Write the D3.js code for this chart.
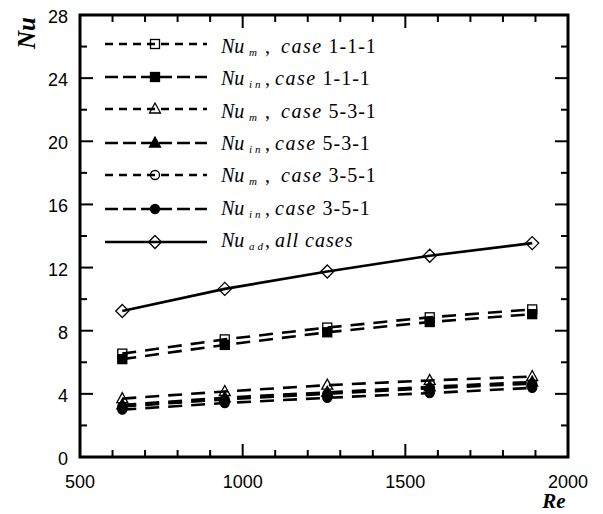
<!DOCTYPE html>
<html>
<head>
<meta charset="utf-8">
<script src="https://cdn.jsdelivr.net/npm/d3@7/dist/d3.min.js"></script>
<style>
  body { margin: 0; background: #fff; }
  svg { display: block; }
</style>
</head>
<body>
<div id="chart"></div>
<script>
// Reynolds numbers of the five runs
const re = [630, 945, 1260, 1575, 1890];

// Nusselt numbers
const nuM111  = [6.55, 7.45, 8.2, 8.85, 9.35];
const nuIn111 = [6.2, 7.1, 7.9, 8.55, 9.05];
const nuM531  = [3.7, 4.15, 4.55, 4.85, 5.1];
const nuIn531 = [3.3, 3.75, 4.1, 4.45, 4.75];
const nuM351  = [3.2, 3.65, 4.0, 4.35, 4.65];
const nuIn351 = [3.0, 3.42, 3.75, 4.05, 4.38];
const nuAd    = [9.25, 10.65, 11.75, 12.75, 13.55];

const xTicks = [500, 1000, 1500, 2000];
const yTicks = [0, 4, 8, 12, 16, 20, 24, 28];

const series = [
  { vals: nuM111,  sub: "m",  tail: "1-1-1", marker: "square",   filled: false, dash: "8,6" },
  { vals: nuIn111, sub: "in", tail: "1-1-1", marker: "square",   filled: true,  dash: "13,5" },
  { vals: nuM531,  sub: "m",  tail: "5-3-1", marker: "triangle", filled: false, dash: "8,6" },
  { vals: nuIn531, sub: "in", tail: "5-3-1", marker: "triangle", filled: true,  dash: "13,5" },
  { vals: nuM351,  sub: "m",  tail: "3-5-1", marker: "circle",   filled: false, dash: "8,6" },
  { vals: nuIn351, sub: "in", tail: "3-5-1", marker: "circle",   filled: true,  dash: "13,5" },
  { vals: nuAd,    sub: "ad", tail: null,    marker: "diamond",  filled: false, dash: null }
];

const W = 603, H = 514;
const pL = 80, pR = 568, pT = 15, pB = 457;

const svg = d3.select("#chart").append("svg").attr("width", W).attr("height", H);

const x = d3.scaleLinear().domain([500, 2000]).range([pL, pR]);
const y = d3.scaleLinear().domain([0, 28]).range([pB, pT]);

const sans = "'Liberation Sans', Arial, sans-serif";
const serif = "'Liberation Serif', 'Times New Roman', serif";

// ticks on all four sides, pointing inward
const xMinor = d3.range(500, 2001, 100);
const yMinor = d3.range(0, 29, 2);

const tickG = svg.append("g").attr("stroke", "#000").attr("stroke-width", 2);
xMinor.forEach(v => {
  const len = v % 500 === 0 ? 13 : 7;
  tickG.append("line").attr("x1", x(v)).attr("x2", x(v)).attr("y1", pB).attr("y2", pB - len);
  tickG.append("line").attr("x1", x(v)).attr("x2", x(v)).attr("y1", pT).attr("y2", pT + len);
});
yMinor.forEach(v => {
  const len = v % 4 === 0 ? 13 : 7;
  tickG.append("line").attr("x1", pL).attr("x2", pL + len).attr("y1", y(v)).attr("y2", y(v));
  tickG.append("line").attr("x1", pR).attr("x2", pR - len).attr("y1", y(v)).attr("y2", y(v));
});

// frame
svg.append("rect")
  .attr("x", pL).attr("y", pT)
  .attr("width", pR - pL).attr("height", pB - pT)
  .attr("fill", "none").attr("stroke", "#000").attr("stroke-width", 3);

// tick labels
svg.append("g").selectAll("text").data(xTicks).join("text")
  .attr("x", d => x(d)).attr("y", 488)
  .attr("text-anchor", "middle")
  .attr("font-family", sans).attr("font-size", 18)
  .text(d => d);

svg.append("g").selectAll("text").data(yTicks).join("text")
  .attr("x", 68).attr("y", d => y(d) + 8)
  .attr("text-anchor", "end")
  .attr("font-family", sans).attr("font-size", 18)
  .text(d => d);

// axis titles
svg.append("text")
  .attr("transform", "translate(35,33) rotate(-90)")
  .attr("text-anchor", "middle")
  .attr("font-family", serif).attr("font-size", 25)
  .attr("font-weight", "bold").attr("font-style", "italic")
  .text("Nu");

svg.append("text")
  .attr("x", 554).attr("y", 508)
  .attr("text-anchor", "middle")
  .attr("font-family", serif).attr("font-size", 21)
  .attr("font-weight", "bold").attr("font-style", "italic")
  .text("Re");

function drawMarker(g, type, filled, cx, cy) {
  const fill = filled ? "#000" : "none";
  let m;
  if (type === "square") {
    m = g.append("rect").attr("x", cx - 4.5).attr("y", cy - 4.5).attr("width", 9).attr("height", 9);
  } else if (type === "triangle") {
    m = g.append("path").attr("d", `M${cx},${cy - 6}L${cx + 5.5},${cy + 4}L${cx - 5.5},${cy + 4}Z`);
  } else if (type === "circle") {
    m = g.append("circle").attr("cx", cx).attr("cy", cy).attr("r", 4.5);
  } else {
    m = g.append("path").attr("d", `M${cx},${cy - 6.5}L${cx + 6.5},${cy}L${cx},${cy + 6.5}L${cx - 6.5},${cy}Z`);
  }
  m.attr("fill", fill).attr("stroke", "#000").attr("stroke-width", 1.3);
}

const line = d3.line().x((d, i) => x(re[i])).y(d => y(d));

// plot series (dashes in the plot are longer than in the legend)
series.forEach(s => {
  const g = svg.append("g");
  g.append("path")
    .attr("d", line(s.vals))
    .attr("fill", "none").attr("stroke", "#000").attr("stroke-width", 2.6)
    .attr("stroke-dasharray", s.dash ? "14,9" : null);
  s.vals.forEach((v, i) => drawMarker(g, s.marker, s.filled, x(re[i]), y(v)));
});

// legend
const legY = [44, 77, 109, 143, 175, 209, 242];
const legText = [53, 85, 118, 150, 182, 215, 247];
series.forEach((s, i) => {
  const g = svg.append("g");
  const ly = legY[i];
  g.append("line")
    .attr("x1", 105).attr("x2", 207).attr("y1", ly).attr("y2", ly)
    .attr("stroke", "#000").attr("stroke-width", 2.6)
    .attr("stroke-dasharray", s.dash);
  drawMarker(g, s.marker, s.filled, 155, ly);

  const t = g.append("text").attr("y", legText[i])
    .attr("font-family", serif).attr("font-size", 20);
  t.append("tspan").attr("x", 221).attr("font-style", "italic").text("Nu");
  t.append("tspan").attr("x", 249).attr("dy", 3).attr("font-size", 11)
    .attr("font-style", "italic").attr("letter-spacing", 3).text(s.sub);
  t.append("tspan").attr("x", 265).attr("dy", -3).text(",");
  if (s.tail) {
    const cx = s.sub === "m" ? 281 : 275;
    t.append("tspan").attr("x", cx).attr("font-style", "italic")
      .attr("letter-spacing", 1.5).text("case");
    t.append("tspan").attr("letter-spacing", 1).text(" " + s.tail);
  } else {
    t.append("tspan").attr("x", 275).attr("font-style", "italic")
      .attr("letter-spacing", 1).text("all cases");
  }
});
</script>
</body>
</html>
